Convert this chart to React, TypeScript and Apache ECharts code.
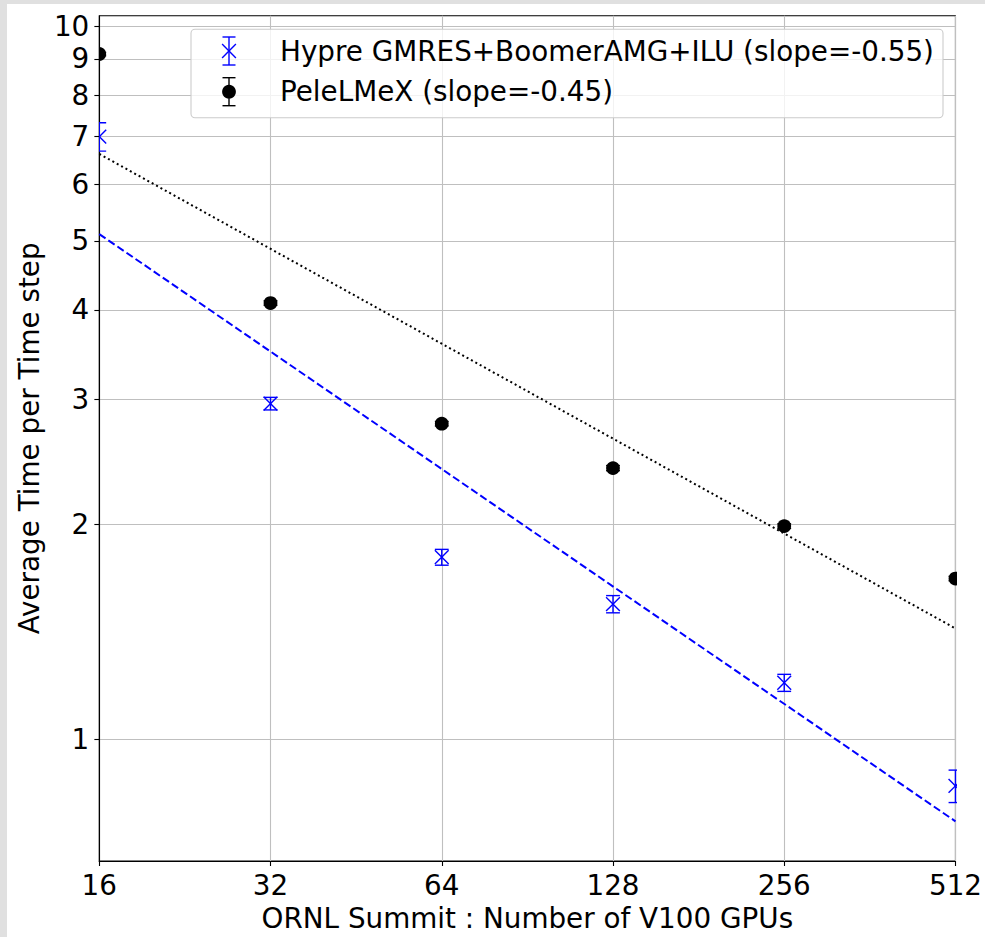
import React, { useEffect, useRef } from "react";
import * as echarts from "echarts";

// ---- data ----
const gpus = [16, 32, 64, 128, 256, 512];
const hypreTime = [7.0, 2.956, 1.80, 1.547, 1.20, 0.86];
const hypreErr = [0.32, 0.06, 0.046, 0.043, 0.033, 0.045];
const peleTime = [9.14, 4.09, 2.77, 2.40, 1.99, 1.68];
const peleErr = [0.05, 0.03, 0.02, 0.02, 0.015, 0.012];
const hypreFitEnds = [5.11, 0.767]; // at 16 and 512 GPUs
const peleFitEnds = [6.62, 1.43];
const xTicks = [16, 32, 64, 128, 256, 512];
const yTicks = [1, 2, 3, 4, 5, 6, 7, 8, 9, 10];
const yRange = [0.6746, 10.344];
const hypreLabel = "Hypre GMRES+BoomerAMG+ILU (slope=-0.55)";
const peleLabel = "PeleLMeX (slope=-0.45)";

const FONT = "DejaVu Sans";
const FS = 27.8;
const BLUE = "#0000ff";

const lx = (v: number) => Math.log2(v);
const ly = (v: number) => Math.log10(v);

function errRender(kind: "x" | "o", color: string) {
  return (params: any, api: any) => {
    const x = api.value(0);
    const y = api.value(1);
    const lo = api.value(2);
    const hi = api.value(3);
    const c = api.coord([x, y]);
    const cl = api.coord([x, lo]);
    const ch = api.coord([x, hi]);
    const cap = 6.9;
    const m = 6.9;
    const lw = 1.4;
    const children: any[] = [
      { type: "line", shape: { x1: c[0], y1: cl[1], x2: c[0], y2: ch[1] }, style: { stroke: color, lineWidth: lw } },
      { type: "line", shape: { x1: c[0] - cap, y1: cl[1], x2: c[0] + cap, y2: cl[1] }, style: { stroke: color, lineWidth: lw } },
      { type: "line", shape: { x1: c[0] - cap, y1: ch[1], x2: c[0] + cap, y2: ch[1] }, style: { stroke: color, lineWidth: lw } },
    ];
    if (kind === "x") {
      children.push(
        { type: "line", shape: { x1: c[0] - m, y1: c[1] - m, x2: c[0] + m, y2: c[1] + m }, style: { stroke: color, lineWidth: lw } },
        { type: "line", shape: { x1: c[0] - m, y1: c[1] + m, x2: c[0] + m, y2: c[1] - m }, style: { stroke: color, lineWidth: lw } }
      );
    } else {
      children.push({ type: "circle", shape: { cx: c[0], cy: c[1], r: 6.9 }, style: { fill: color } });
    }
    return { type: "group", children };
  };
}

export default function App() {
  const ref = useRef<HTMLDivElement>(null);
  useEffect(() => {
    document.body.style.margin = "0";
    if (!ref.current) return;
    const chart = echarts.init(ref.current, null, { renderer: "svg" });

    const hypreData = gpus.map((g, i) => [lx(g), ly(hypreTime[i]), ly(hypreTime[i] - hypreErr[i]), ly(hypreTime[i] + hypreErr[i])]);
    const peleData = gpus.map((g, i) => [lx(g), ly(peleTime[i]), ly(peleTime[i] - peleErr[i]), ly(peleTime[i] + peleErr[i])]);
    const x0 = lx(gpus[0]);
    const x1 = lx(gpus[gpus.length - 1]);

    // legend positions (chart-div coordinates)
    const bx = 184, by = 25.3, bw = 752, bh = 88.4;
    const hx = 222, r1 = 47, r2 = 87.7, tx = 273;
    const lw = 1.4;
    const handle = (cy: number, color: string) => [
      { type: "line", z: 101, shape: { x1: hx, y1: cy - 14, x2: hx, y2: cy + 14 }, style: { stroke: color, lineWidth: lw } },
      { type: "line", z: 101, shape: { x1: hx - 6.5, y1: cy - 14, x2: hx + 6.5, y2: cy - 14 }, style: { stroke: color, lineWidth: lw } },
      { type: "line", z: 101, shape: { x1: hx - 6.5, y1: cy + 14, x2: hx + 6.5, y2: cy + 14 }, style: { stroke: color, lineWidth: lw } },
    ];

    chart.setOption({
      animation: false,
      backgroundColor: "#ffffff",
      textStyle: { fontFamily: FONT },
      grid: {
        left: 90,
        top: 11.7,
        right: 28,
        bottom: 68,
        show: true,
        borderColor: "#000000",
        borderWidth: 1.1,
        backgroundColor: "transparent",
      },
      xAxis: {
        type: "value",
        min: lx(xTicks[0]),
        max: lx(xTicks[xTicks.length - 1]),
        interval: 1,
        name: "ORNL Summit : Number of V100 GPUs",
        nameLocation: "middle",
        nameGap: 41,
        nameTextStyle: { fontFamily: FONT, fontSize: FS, color: "#000" },
        axisLine: { show: true, onZero: false, lineStyle: { color: "#000", width: 1.1 } },
        axisTick: { show: true, length: 4.9, lineStyle: { color: "#000", width: 1.1 } },
        axisLabel: {
          margin: 10,
          fontFamily: FONT,
          fontSize: FS,
          color: "#000",
          formatter: (v: number) => String(Math.round(Math.pow(2, v))),
        },
        splitLine: { show: true, lineStyle: { color: "#bfbfbf", width: 1.1 } },
      },
      yAxis: {
        type: "value",
        min: ly(yRange[0]),
        max: ly(yRange[1]),
        name: "Average Time per Time step",
        nameLocation: "middle",
        nameGap: 55,
        nameTextStyle: { fontFamily: FONT, fontSize: FS, color: "#000" },
        axisLine: { show: true, onZero: false, lineStyle: { color: "#000", width: 1.1 } },
        axisTick: { show: true, length: 4.9, customValues: yTicks.map(ly), lineStyle: { color: "#000", width: 1.1 } },
        axisLabel: {
          margin: 10,
          fontFamily: FONT,
          fontSize: FS,
          color: "#000",
          customValues: yTicks.map(ly),
          formatter: (v: number) => String(Math.round(Math.pow(10, v))),
        },
        splitLine: { show: true, lineStyle: { color: "#bfbfbf", width: 1.1 } },
      },
      series: [
        {
          type: "line",
          name: "hypreFit",
          data: [[x0, ly(hypreFitEnds[0])], [x1, ly(hypreFitEnds[1])]],
          symbol: "none",
          lineStyle: { color: BLUE, width: 2, type: [7.6, 3.4] },
          z: 3,
        },
        {
          type: "line",
          name: "peleFit",
          data: [[x0, ly(peleFitEnds[0])], [x1, ly(peleFitEnds[1])]],
          symbol: "none",
          lineStyle: { color: "#000", width: 2, type: [2, 3] },
          z: 3,
        },
        {
          type: "custom",
          name: hypreLabel,
          clip: true,
          renderItem: errRender("x", BLUE),
          data: hypreData,
          encode: { x: 0, y: 1 },
          z: 4,
        },
        {
          type: "custom",
          name: peleLabel,
          clip: true,
          renderItem: errRender("o", "#000"),
          data: peleData,
          encode: { x: 0, y: 1 },
          z: 4,
        },
      ],
      graphic: [
        {
          type: "rect",
          z: 100,
          shape: { x: bx, y: by, width: bw, height: bh, r: 4 },
          style: { fill: "rgba(255,255,255,0.8)", stroke: "#cccccc", lineWidth: 1.1 },
        },
        ...handle(r1, BLUE),
        { type: "line", z: 101, shape: { x1: hx - 6.9, y1: r1 - 6.9, x2: hx + 6.9, y2: r1 + 6.9 }, style: { stroke: BLUE, lineWidth: lw } },
        { type: "line", z: 101, shape: { x1: hx - 6.9, y1: r1 + 6.9, x2: hx + 6.9, y2: r1 - 6.9 }, style: { stroke: BLUE, lineWidth: lw } },
        ...handle(r2, "#000"),
        { type: "circle", z: 101, shape: { cx: hx, cy: r2, r: 6.9 }, style: { fill: "#000" } },
        {
          type: "text",
          z: 101,
          x: tx,
          y: r1,
          style: { text: hypreLabel, font: `${FS}px '${FONT}'`, fill: "#000", textVerticalAlign: "middle", verticalAlign: "middle" },
        },
        {
          type: "text",
          z: 101,
          x: tx,
          y: r2,
          style: { text: peleLabel, font: `${FS}px '${FONT}'`, fill: "#000", textVerticalAlign: "middle", verticalAlign: "middle" },
        },
      ],
    });
    return () => chart.dispose();
  }, []);

  return (
    <div style={{ position: "relative", width: 985, height: 937, background: "#e0e0e0", overflow: "hidden" }}>
      <div ref={ref} style={{ position: "absolute", left: 7, top: 4, width: 978, height: 933, background: "#ffffff" }} />
    </div>
  );
}
